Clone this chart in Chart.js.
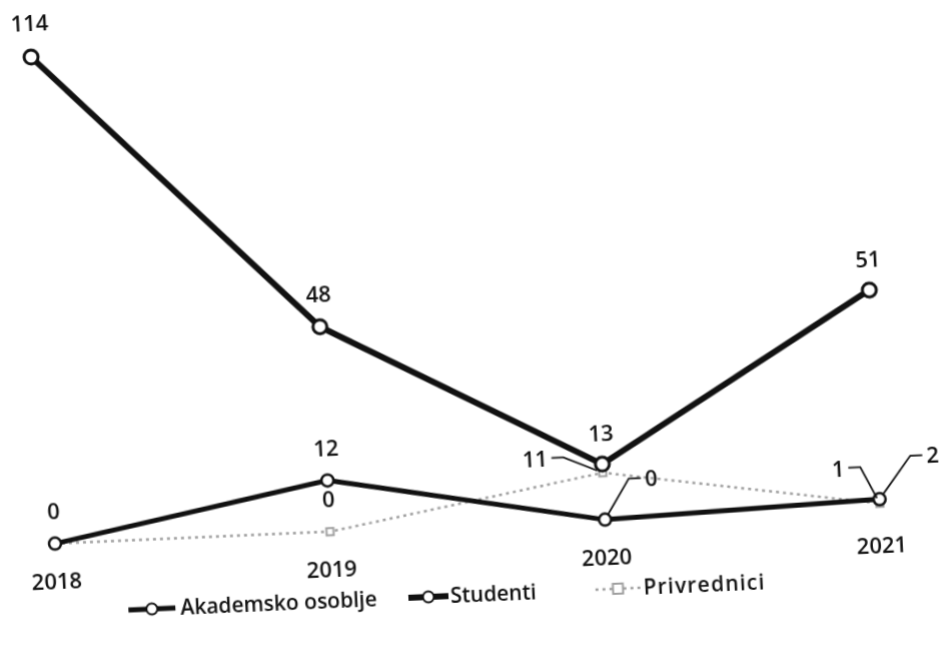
<!DOCTYPE html>
<html>
<head>
<meta charset="utf-8">
<script src="https://cdn.jsdelivr.net/npm/chart.js@4/dist/chart.umd.min.js"></script>
<style>
  html, body { margin: 0; padding: 0; background: #fff; overflow: hidden; width: 941px; height: 646px; }
  /* the scanned original is slightly tilted and sheared, so the chart is too */
  #wrap { position: absolute; left: 0; top: 0; width: 1001px; height: 706px;
          transform-origin: 0 0; transform: matrix(1, -0.0436, 0.0492, 1, -47.2, -5.7); }
</style>
</head>
<body>
<div id="wrap"><canvas id="chart" width="1001" height="706"></canvas></div>
<script>
// Data
const years = ['2018', '2019', '2020', '2021'];
const akademsko = [0, 12, 0, 2];
const studenti = [114, 48, 13, 51];
const privrednici = [0, 0, 11, 1];
const seriesNames = ['Akademsko osoblje', 'Studenti', 'Privrednici'];

// where each value label sits relative to its point (null = not shown)
const labelSpots = [
  [{ dy: -31 }, { dy: -31 }, { dx: 48, dy: -38, leader: true }, { dx: 55, dy: -40, leader: true }],
  [{ dy: -32 }, { dy: -31 }, { dy: -29 }, { dy: -29 }],
  [null, { dy: -31 }, { dx: -67, dy: -15, leader: true }, { dx: -40, dy: -35, leader: true }]
];

const FONT = '"Open Sans", "DejaVu Sans", sans-serif';

// Value labels with leader lines
const pointLabels = {
  id: 'pointLabels',
  afterDatasetsDraw(chart) {
    const ctx = chart.ctx;
    ctx.save();
    ctx.font = '600 22px ' + FONT;
    ctx.fillStyle = '#111';
    ctx.strokeStyle = '#111';
    ctx.lineWidth = 1.8;
    ctx.textAlign = 'center';
    ctx.textBaseline = 'middle';
    chart.data.datasets.forEach((ds, i) => {
      chart.getDatasetMeta(i).data.forEach((pt, j) => {
        const spot = labelSpots[i][j];
        if (!spot) return;
        const lx = pt.x + (spot.dx || 0);
        const ly = pt.y + spot.dy;
        const text = String(ds.data[j]);
        ctx.fillText(text, lx, ly);
        if (spot.leader) {
          const half = ctx.measureText(text).width / 2;
          const side = spot.dx > 0 ? -1 : 1;
          const x0 = lx + side * (half + 4);
          const x1 = x0 + side * 12;
          const y0 = ly - 2;
          const vx = pt.x - x1, vy = pt.y - y0;
          const len = Math.hypot(vx, vy);
          ctx.beginPath();
          ctx.moveTo(x0, y0);
          ctx.lineTo(x1, y0);
          ctx.lineTo(pt.x - vx / len * 6, pt.y - vy / len * 6);
          ctx.stroke();
        }
      });
    });
    ctx.restore();
  }
};

// Legend drawn like the original: line sample with marker, then name
const lineLegend = {
  id: 'lineLegend',
  afterDraw(chart) {
    const ctx = chart.ctx;
    const y = 622;
    const items = [
      { x: 145, w: 47, gap: 5, spacing: 0 },
      { x: 425, w: 40, gap: 2, spacing: 0 },
      { x: 612, w: 45, gap: 3, spacing: 1.2 }
    ];
    ctx.save();
    ctx.font = '600 21px ' + FONT;
    ctx.textBaseline = 'middle';
    ctx.textAlign = 'left';
    chart.data.datasets.forEach((ds, i) => {
      const it = items[i];
      ctx.strokeStyle = ds.borderColor;
      ctx.lineWidth = ds.borderWidth;
      ctx.setLineDash(ds.borderDash || []);
      ctx.beginPath();
      ctx.moveTo(it.x, y);
      ctx.lineTo(it.x + it.w, y);
      ctx.stroke();
      ctx.setLineDash([]);
      ctx.fillStyle = '#fff';
      ctx.lineWidth = 2;
      ctx.beginPath();
      if (ds.pointStyle === 'rect') {
        ctx.rect(it.x + it.w / 2 - 5, y - 5, 10, 10);
      } else {
        ctx.arc(it.x + it.w / 2, y, 5.5, 0, Math.PI * 2);
      }
      ctx.fill();
      ctx.stroke();
      ctx.fillStyle = '#111';
      ctx.letterSpacing = it.spacing + 'px';
      ctx.fillText(ds.label, it.x + it.w + it.gap, y + 1);
    });
    ctx.restore();
  }
};

new Chart(document.getElementById('chart'), {
  type: 'line',
  data: {
    labels: years,
    datasets: [
      {
        label: seriesNames[0],
        data: akademsko,
        borderColor: '#111',
        borderWidth: 5,
        pointRadius: 6,
        pointBackgroundColor: '#fff',
        pointBorderColor: '#111',
        pointBorderWidth: 2.5,
        clip: false,
        order: 2
      },
      {
        label: seriesNames[1],
        data: studenti,
        borderColor: '#111',
        borderWidth: 6,
        pointRadius: 7,
        pointBackgroundColor: '#fff',
        pointBorderColor: '#111',
        pointBorderWidth: 3,
        clip: false,
        order: 1
      },
      {
        label: seriesNames[2],
        data: privrednici,
        borderColor: '#a0a0a0',
        borderWidth: 2.5,
        borderDash: [3, 4],
        pointStyle: 'rect',
        pointRadius: 5,
        pointBackgroundColor: '#fff',
        pointBorderColor: '#a0a0a0',
        pointBorderWidth: 2,
        clip: false,
        order: 3
      }
    ]
  },
  options: {
    responsive: false,
    devicePixelRatio: 1,
    animation: false,
    layout: { padding: { left: 75, right: 101, top: 66, bottom: 75 } },
    plugins: {
      legend: { display: false },
      tooltip: { enabled: false }
    },
    scales: {
      x: {
        offset: false,
        grid: { display: false, drawTicks: false },
        border: { display: false },
        ticks: { color: '#111', font: { family: FONT, size: 22, weight: '600' }, padding: 26, maxRotation: 0 }
      },
      y: {
        display: false,
        min: 0,
        max: 114
      }
    }
  },
  plugins: [pointLabels, lineLegend]
});
</script>
</body>
</html>
